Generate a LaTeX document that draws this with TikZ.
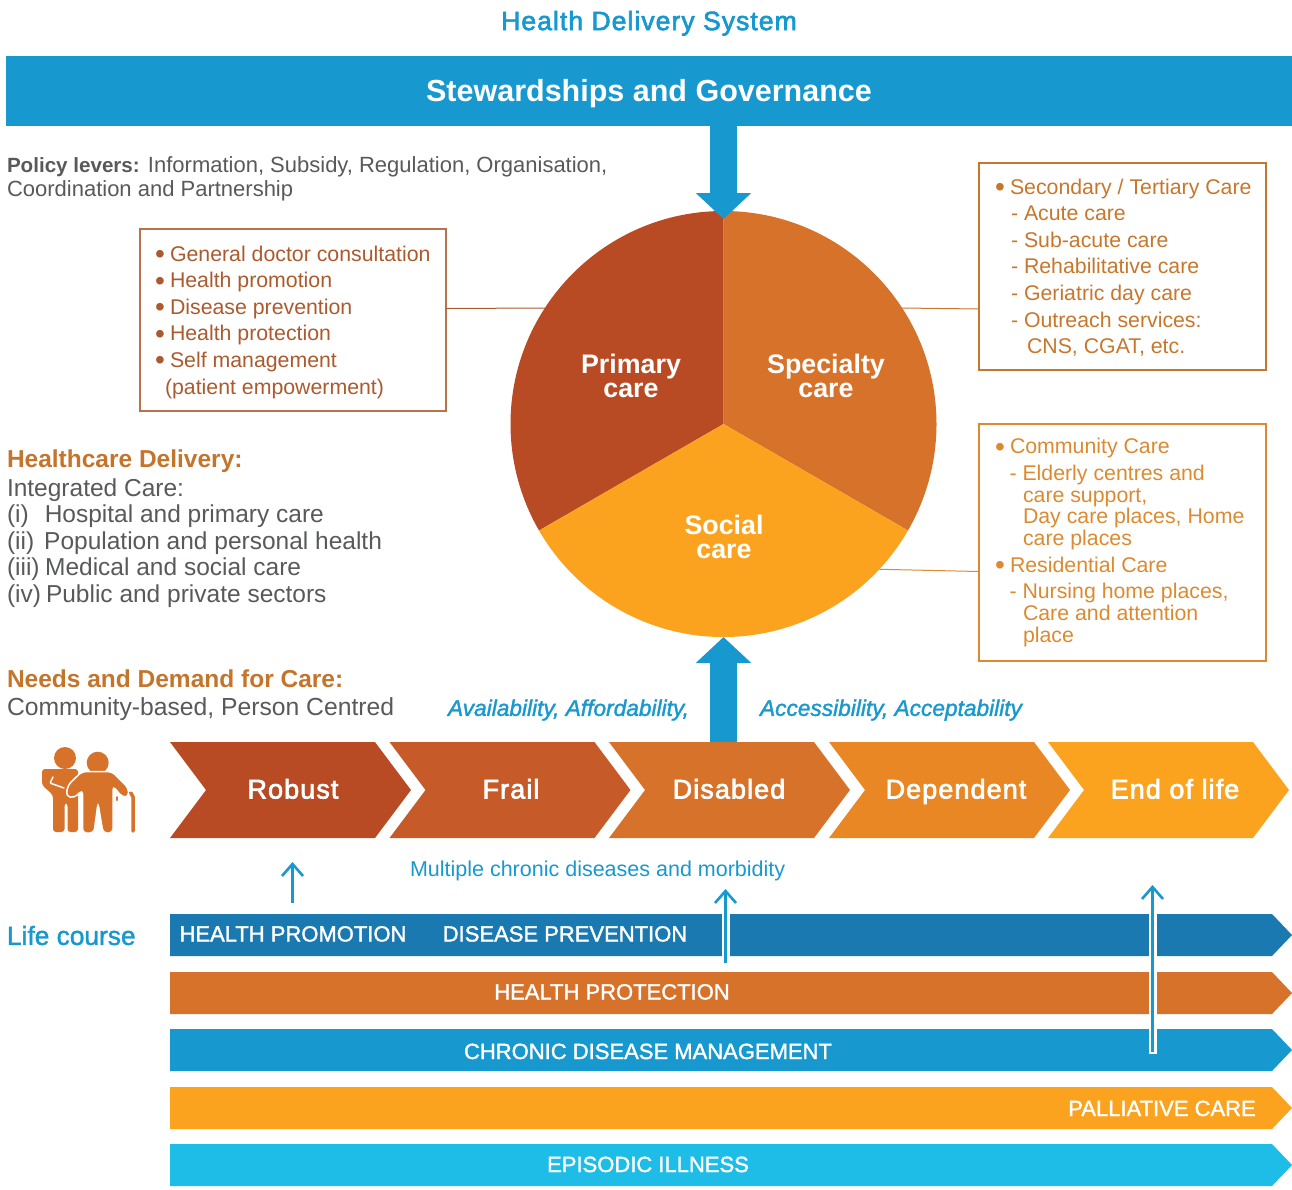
\documentclass[tikz,border=0pt]{standalone}
\usepackage{fontspec}
\setmainfont{Liberation Sans}
\newfontfamily\medfont[FakeBold=2.5]{Liberation Sans}
\newfontfamily\medlight[FakeBold=1.5]{Liberation Sans}
\newfontfamily\medwide[FakeBold=2.5,LetterSpace=4]{Liberation Sans}
\usetikzlibrary{arrows.meta,shapes.symbols}
\definecolor{govblue}{HTML}{1798CE}
\definecolor{darkblue}{HTML}{1A79B1}
\definecolor{skyblue}{HTML}{1DBDE8}
\definecolor{primcol}{HTML}{B84A24}
\definecolor{frailcol}{HTML}{C65A28}
\definecolor{speccol}{HTML}{D67229}
\definecolor{depcol}{HTML}{E98725}
\definecolor{socialcol}{HTML}{FBA31F}
\definecolor{greytext}{HTML}{58595B}
\definecolor{headcol}{HTML}{C4752B}
\definecolor{primtext}{HTML}{AB5A2E}
\definecolor{spectext}{HTML}{C7772B}
\definecolor{socialtext}{HTML}{DB8A30}
\newcommand{\bul}{\makebox[15pt][l]{\raisebox{-2.4pt}{\fontsize{28}{28}\selectfont\textbullet}}}
\newcommand{\das}[1]{\hspace*{#1pt}\makebox[13pt][l]{-}}
\tikzset{
  plain/.style={inner sep=0,outer sep=0,anchor=west,align=left},
  listbox/.style={draw,line width=1.1pt,inner sep=0,outer sep=0,minimum width=#1},
  listtext/.style={plain,font=\fontsize{21.3}{26.6}\selectfont},
  chevron/.style={signal,signal from=west,signal to=east,signal pointer angle=106.26,minimum width=241pt,minimum height=96pt,
    inner sep=0,outer sep=0},
  chevtext/.style={inner sep=0,outer sep=0,anchor=base,text=white,font=\medwide\fontsize{27}{27}\selectfont},
  bartext/.style={inner sep=0,outer sep=0,anchor=base,text=white,font=\medlight\fontsize{22}{22}\selectfont},
  pietext/.style={inner sep=0,outer sep=0,text=white,align=center,font=\bfseries\fontsize{26.8}{24.5}\selectfont},
  bigarrow/.style={govblue,line width=27pt,-{Triangle[width=54pt,length=26pt]}},
  upline/.style={govblue,line width=2.6pt,-{Straight Barb[width=21pt,length=12pt,line width=2.6pt]}},
  halo/.style={white,line width=8pt},
  leader/.style={line width=1pt}
}
\begin{document}
\begin{tikzpicture}[x=1pt,y=-1pt]
  \pgfmathsetmacro{\r}{213}
  \useasboundingbox (0,0) rectangle (1292,1189);

  \node[inner sep=0,text=govblue,text depth=0pt,font=\medwide\fontsize{26.5}{26}\selectfont] (title) at (649,20.5) {Health Delivery System};
  \node[fill=govblue,minimum width=1286pt,minimum height=70pt,inner sep=0,outer sep=0] (gov) at (649,91) {};
  \node[inner sep=0,text=white,text depth=0pt,font=\bfseries\fontsize{30.5}{30}\selectfont] (govlabel) at (649,90) {Stewardships and Governance};

  \node[plain,text=greytext,font=\fontsize{22}{24}\selectfont] (levers) at (7,179) {{\bfseries\fontsize{20.6}{24}\selectfont Policy levers:} Information, Subsidy, Regulation, Organisation,\\Coordination and Partnership};

  \node[listbox=306pt,minimum height=182pt,draw=primtext!85!white] (boxprim) at (293,320) {};
  \node[listtext,text=primtext] (listprim) at (155,322) {\bul General doctor consultation\\\bul Health promotion\\\bul Disease prevention\\\bul Health protection\\\bul Self management\\\hspace*{10pt}(patient empowerment)};

  \node[listbox=287pt,minimum height=207pt,draw=spectext] (boxspec) at (1122.5,266.5) {};
  \node[listtext,text=spectext] (listspec) at (995,267.5) {\bul Secondary / Tertiary Care\\\das{16}Acute care\\\das{16}Sub-acute care\\\das{16}Rehabilitative care\\\das{16}Geriatric day care\\\das{16}Outreach services:\\\hspace*{32pt}CNS, CGAT, etc.};

  \node[listbox=287pt,minimum height=237pt,draw=socialtext] (boxsocial) at (1122.5,542.5) {};
  \node[listtext,text=socialtext] (listsocial) at (995,542.5) {\bul Community Care\\\das{14.5}Elderly centres and\\[-4.9pt]\hspace*{28pt}care support,\\[-4.9pt]\hspace*{28pt}Day care places, Home\\[-4.9pt]\hspace*{28pt}care places\\\bul Residential Care\\\das{14.5}Nursing home places,\\[-4.9pt]\hspace*{28pt}Care and attention\\[-4.9pt]\hspace*{28pt}place};

  \node[circle,minimum size=426pt,inner sep=0,outer sep=0] (pie) at (723.5,424) {};
  \draw[leader,primtext] ([yshift=11.5pt]boxprim.east) -- (pie.147);
  \draw[leader,spectext] ([yshift=-42.5pt]boxspec.west) -- (pie.33);
  \draw[leader,socialtext] ([yshift=-29pt]boxsocial.west) -- (pie.-43);

  \fill[primcol] (pie.center) -- (pie.90) arc[start angle=90,end angle=210,radius=\r pt] -- cycle;
  \fill[speccol] (pie.center) -- (pie.90) arc[start angle=90,end angle=-30,radius=\r pt] -- cycle;
  \fill[socialcol] (pie.center) -- (pie.-30) arc[start angle=-30,end angle=-150,radius=\r pt] -- cycle;

  \node[pietext] (primlabel) at (631,376) {Primary\\care};
  \node[pietext] (speclabel) at (826,376) {Specialty\\care};
  \node[pietext] (sociallabel) at (724,537) {Social\\care};

  \node[plain,text=headcol,font=\bfseries\fontsize{24.5}{24}\selectfont] (delhead) at (7,461) {Healthcare Delivery:};
  \node[plain,text=greytext,font=\fontsize{24.5}{26.6}\selectfont] (dellist) at (7,543) {Integrated Care:\\(i)\hspace{16pt}Hospital and primary care\\(ii)\hspace{10pt}Population and personal health\\(iii)\hspace{5.5pt}Medical and social care\\(iv)\hspace{5pt}Public and private sectors};

  \node[plain,text=headcol,font=\bfseries\fontsize{24.5}{24}\selectfont] (needhead) at (7,679) {Needs and Demand for Care:};
  \node[plain,text=greytext,font=\fontsize{24.7}{24}\selectfont] (needtext) at (7,709) {Community-based, Person Centred};

  \node[plain,text=govblue,font=\medlight\itshape\fontsize{22.7}{22}\selectfont] (availtext) at (448,710) {Availability, Affordability,};
  \node[plain,text=govblue,font=\medlight\itshape\fontsize{22.7}{22}\selectfont] (accesstext) at (760,710) {Accessibility, Acceptability};

  \fill[speccol] (65,758) circle[radius=11pt];
  \fill[speccol,rounded corners=3pt] (42,769) -- (78,769) -- (78,832) -- (67.5,832) -- (67.5,803) -- (64.5,803) -- (64.5,832) -- (53,832) -- (53,795) -- (42,785) -- cycle;
  \draw[white,line width=1.5pt,line cap=round,rounded corners=1pt] (53,777) -- (50,783) -- (64,788);
  \fill[speccol] (97.7,762.7) circle[radius=11pt];
  \draw[white,line width=1.5pt,fill=speccol,rounded corners=4pt] (82,771.5) -- (112,771.5) -- (128.5,788) -- (128.5,797) -- (122,797) -- (113,786) -- (113,833) -- (103,833) -- (98,803) -- (94,833) -- (82.5,833) -- (82.5,790) -- (74,798) -- (66,796) -- (68,785) -- cycle;
  \draw[speccol,line width=3.5pt,line cap=round,rounded corners=2pt] (133,831) -- (133,795) -- (130.5,793);
  \draw[speccol,line width=2pt,line cap=round] (117,797) -- (117,800);

  \draw[bigarrow] (gov.south -| pie) -- ([yshift=-8pt]pie.north);

  \node[chevron,fill=primcol] (robust) at (290.5,790) {};
  \node[chevron,fill=frailcol] (frail) at (510,790) {};
  \node[chevron,fill=speccol] (disabled) at (729.5,790) {};
  \node[chevron,fill=depcol] (dependent) at (949.5,790) {};
  \node[chevron,fill=socialcol] (endlife) at (1168.5,790) {};

  \coordinate (upstart) at (723.5,742);
  \draw[bigarrow] (upstart) -- (pie.south);

  \node[chevtext] (robustlabel) at (293,798.5) {Robust};
  \node[chevtext] (fraillabel) at (511,798.5) {Frail};
  \node[chevtext] (disabledlabel) at (729,798.5) {Disabled};
  \node[chevtext] (dependentlabel) at (956,798.5) {Dependent};
  \node[chevtext] (endlifelabel) at (1175,798.5) {End of life};

  \node[plain,text=govblue,font=\fontsize{21.5}{22}\selectfont] (chronictext) at (410,871) {Multiple chronic diseases and morbidity};
  \node[plain,text=govblue,font=\medlight\fontsize{26.3}{25}\selectfont] (lifetext) at (7,935.5) {Life course};

  \fill[darkblue] (170,914) -- (1272,914) -- (1292,935) -- (1272,956) -- (170,956) -- cycle;
  \fill[speccol] (170,972) -- (1272,972) -- (1292,993) -- (1272,1014) -- (170,1014) -- cycle;
  \fill[govblue] (170,1029) -- (1272,1029) -- (1292,1050) -- (1272,1071) -- (170,1071) -- cycle;
  \fill[socialcol] (170,1087) -- (1272,1087) -- (1292,1108) -- (1272,1129) -- (170,1129) -- cycle;
  \fill[skyblue] (170,1144) -- (1272,1144) -- (1292,1165) -- (1272,1186) -- (170,1186) -- cycle;

  \node[bartext] (promotext) at (293,941.5) {HEALTH PROMOTION};
  \node[bartext] (preventext) at (565,941.5) {DISEASE PREVENTION};
  \node[bartext] (protecttext) at (612,999.5) {HEALTH PROTECTION};
  \node[bartext] (managetext) at (648,1059) {CHRONIC DISEASE MANAGEMENT};
  \node[bartext] (pallitext) at (1162,1116) {PALLIATIVE CARE};
  \node[bartext] (episotext) at (648,1172) {EPISODIC ILLNESS};

  \coordinate (robustfoot) at (292.5,903);
  \coordinate (robusthead) at (292.5,862);
  \coordinate (disfoot) at (725.5,963);
  \coordinate (dishead) at (725.5,889);
  \coordinate (endfoot) at (1152.5,1052);
  \coordinate (endhead) at (1152.5,885);

  \draw[upline] (robustfoot) -- (robusthead);
  \draw[halo] (disfoot) -- ([yshift=-8pt]dishead);
  \draw[upline] (disfoot) -- (dishead);
  \draw[halo] ([yshift=-2pt]endfoot) -- ([yshift=-8pt]endhead);
  \draw[upline] (endfoot) -- (endhead);
\end{tikzpicture}
\end{document}
